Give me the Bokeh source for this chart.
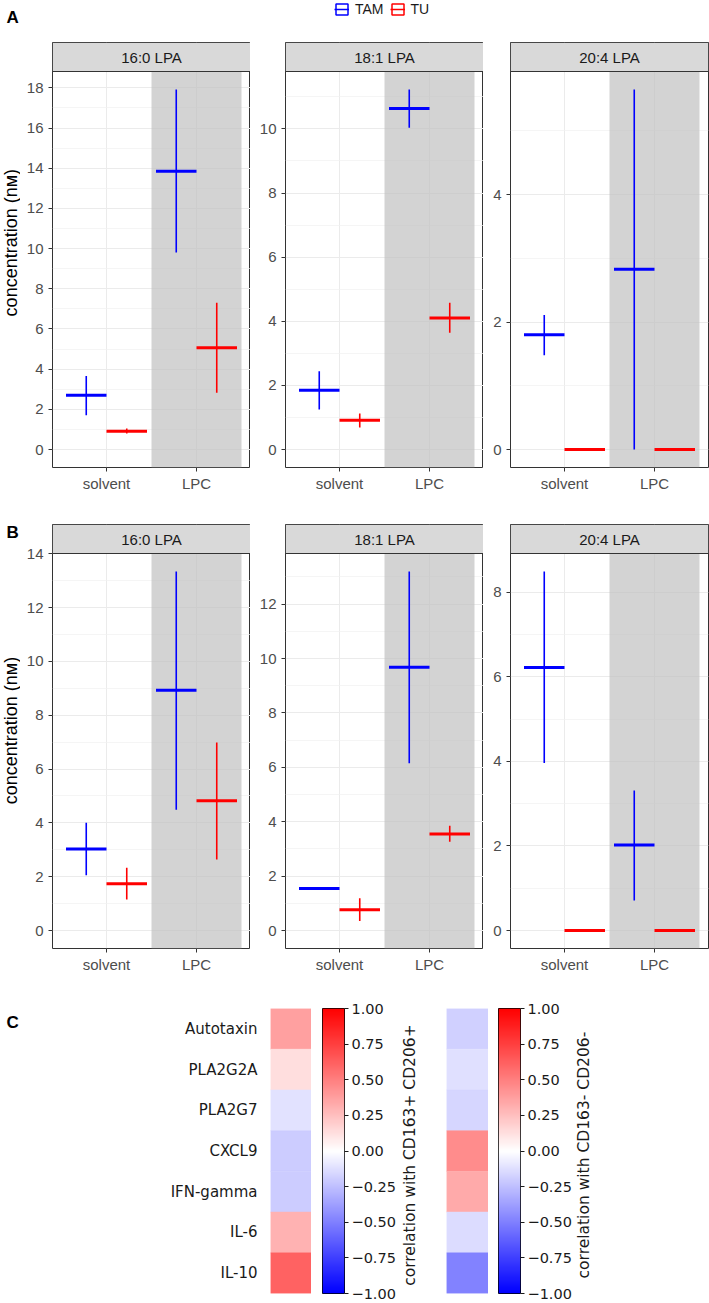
import numpy as np
from bokeh.plotting import figure
from bokeh.layouts import column, row
from bokeh.models import (Range1d, FixedTicker, Legend, LegendItem,
                          LinearColorMapper, FactorRange, CustomJSTickFormatter,
                          ColumnDataSource)
from bokeh.core.properties import value
from bokeh.embed import file_html
from bokeh.resources import INLINE

# ---------------- data ----------------
conditions = ["solvent", "LPC"]
highlight_condition = "LPC"
groups = ["TAM", "TU"]
lipids = ["16:0 LPA", "18:1 LPA", "20:4 LPA"]

# panel A  (rows = lipids, cols = conditions)
a_tam_med = [[2.70, 13.85], [1.85, 10.64], [1.80, 2.83]]
a_tam_lo = [[1.71, 9.81], [1.25, 10.04], [1.48, 0.00]]
a_tam_hi = [[3.66, 17.92], [2.44, 11.23], [2.11, 5.65]]
a_tu_med = [[0.91, 5.06], [0.91, 4.10], [0.00, 0.00]]
a_tu_lo = [[0.80, 2.82], [0.69, 3.64], [0.00, 0.00]]
a_tu_hi = [[1.04, 7.30], [1.12, 4.58], [0.00, 0.00]]

# panel B
b_tam_med = [[3.03, 8.93], [1.55, 9.68], [6.22, 2.02]]
b_tam_lo = [[2.05, 4.49], [1.55, 6.15], [3.96, 0.71]]
b_tam_hi = [[4.00, 13.34], [1.55, 13.20], [8.49, 3.31]]
b_tu_med = [[1.74, 4.82], [0.76, 3.55], [0.00, 0.00]]
b_tu_lo = [[1.15, 2.64], [0.35, 3.26], [0.00, 0.00]]
b_tu_hi = [[2.33, 6.99], [1.19, 3.85], [0.00, 0.00]]

# panel C
cytokines = ["Autotaxin", "PLA2G2A", "PLA2G7", "CXCL9", "IFN-gamma", "IL-6", "IL-10"]
corr_pos = [0.37, 0.13, -0.11, -0.20, -0.20, 0.30, 0.61]
corr_neg = [-0.18, -0.12, -0.16, 0.45, 0.33, -0.14, -0.49]
cbar_ticks = [-1.0, -0.75, -0.5, -0.25, 0.0, 0.25, 0.5, 0.75, 1.0]
cbar_titles = ["correlation with CD163+ CD206+", "correlation with CD163- CD206-"]
y_title = "concentration (n\u1d0d)"
panel_letters = ["A", "B", "C"]

# ---------------- style ----------------
COLORS = {"TAM": "#0000FF", "TU": "#FF0000"}
FONT = "Liberation Sans"
MPL_FONT = "DejaVu Sans"
LABEL_COL_W = 20
PANEL_W, STRIP_H = 198, 29
LEFTS = [32, 35, 27]
RIGHTS = [0, 0, 1]
DODGE = 0.45
TICK_FS = "15px"


def bwr_palette(n=256):
    cols = []
    for i in range(n):
        v = i / (n - 1)
        if v <= 0.5:
            t = v / 0.5
            r = g = int(round(255 * t)); b = 255
        else:
            t = (v - 0.5) / 0.5
            r = 255; g = b = int(round(255 * (1 - t)))
        cols.append("#%02x%02x%02x" % (r, g, b))
    return cols


BWR = bwr_palette()


def blank_fig(width, height):
    """Figure whose data space equals its pixel space (y measured from top)."""
    p = figure(width=width, height=height, x_range=Range1d(0, width),
               y_range=Range1d(height, 0), x_axis_location=None, y_axis_location=None,
               toolbar_location=None, output_backend="svg", min_border=0)
    p.outline_line_color = None
    p.grid.visible = False
    p.background_fill_color = "white"
    p.border_fill_color = "white"
    return p


def letter(p, txt, x, y):
    p.text(x=[x], y=[y], text=[txt], text_font=value(FONT),
           text_font_size=value("17px"), text_font_style="bold",
           text_baseline="top", text_align="left", text_color="black")


def style_axis(ax):
    ax.major_label_text_font = FONT
    ax.major_label_text_font_size = TICK_FS
    ax.major_label_text_color = "#4D4D4D"
    ax.major_tick_line_color = "#333333"
    ax.major_tick_out = 4
    ax.major_tick_in = 0
    ax.minor_tick_line_color = None
    ax.axis_line_color = None


def make_panel(k, med, lo, hi, panel_h, bottom):
    allv = []
    for g in groups:
        allv += list(med[g][k]) + list(lo[g][k]) + list(hi[g][k])
    dmax = max(allv)
    dmin = min(0.0, min(allv))
    span = dmax - dmin
    y0 = dmin - 0.05 * span
    y1 = dmax + 0.05 * span
    ytop = y1 + STRIP_H * (y1 - y0) / panel_h
    ncat = len(conditions)
    xr = Range1d(1 - 0.6, ncat + 0.6)
    p = figure(width=LEFTS[k] + PANEL_W + RIGHTS[k], height=panel_h + STRIP_H + bottom,
               x_range=xr, y_range=Range1d(y0, ytop),
               output_backend="svg", toolbar_location=None,
               min_border_left=LEFTS[k], min_border_right=RIGHTS[k],
               min_border_top=0, min_border_bottom=bottom)
    p.background_fill_color = "white"
    p.border_fill_color = "white"
    p.outline_line_color = "#333333"
    p.outline_line_width = 1

    step = 2
    major = [float(t) for t in np.arange(0, y1 + 1e-9, step)]
    minor = [float(t) for t in np.arange(step / 2, y1 + 1e-9, step)]
    p.yaxis.ticker = FixedTicker(ticks=major, minor_ticks=minor)
    p.xaxis.ticker = FixedTicker(ticks=list(range(1, ncat + 1)))
    p.xaxis.major_label_overrides = {i + 1: c for i, c in enumerate(conditions)}
    style_axis(p.yaxis[0])
    style_axis(p.xaxis[0])
    p.yaxis.major_label_standoff = 5
    p.xaxis.major_label_standoff = 3
    p.ygrid.grid_line_color = "#EBEBEB"
    p.ygrid.grid_line_width = 1
    p.ygrid.minor_grid_line_color = "#F0F0F0"
    p.ygrid.minor_grid_line_width = 0.7
    p.xgrid.grid_line_color = "#EBEBEB"
    p.xgrid.grid_line_width = 1

    hi_idx = conditions.index(highlight_condition) + 1
    p.quad(left=[hi_idx - 0.5], right=[hi_idx + 0.5], bottom=[y0], top=[y1],
           fill_color="#BEBEBE", fill_alpha=0.68, line_color=None)

    for gi, g in enumerate(groups):
        off = (gi - (len(groups) - 1) / 2) * DODGE
        xs = [ci + 1 + off for ci in range(ncat)]
        p.segment(x0=xs, x1=xs, y0=lo[g][k], y1=hi[g][k],
                  line_color=COLORS[g], line_width=1.6)
        p.segment(x0=[x - DODGE / 2 for x in xs], x1=[x + DODGE / 2 for x in xs],
                  y0=med[g][k], y1=med[g][k], line_color=COLORS[g], line_width=3)

    # facet strip
    p.quad(left=[xr.start], right=[xr.end], bottom=[y1], top=[ytop],
           fill_color="#D9D9D9", line_color="#333333", line_width=1)
    p.text(x=[(xr.start + xr.end) / 2], y=[(y1 + ytop) / 2], text=[lipids[k]],
           text_font=value(FONT), text_font_size=value(TICK_FS),
           text_color="#1A1A1A", text_align="center", text_baseline="middle")
    return p


def label_column(height, panel_h, letter_txt=None):
    p = blank_fig(LABEL_COL_W, height)
    p.text(x=[10], y=[STRIP_H + panel_h / 2], text=[y_title], angle=np.pi / 2,
           text_font=value(FONT), text_font_size=value("18px"), text_color="black",
           text_align="center", text_baseline="middle")
    if letter_txt:
        letter(p, letter_txt, 6, -2)
    return p


A = ({"TAM": a_tam_med, "TU": a_tu_med}, {"TAM": a_tam_lo, "TU": a_tu_lo},
     {"TAM": a_tam_hi, "TU": a_tu_hi})
B = ({"TAM": b_tam_med, "TU": b_tu_med}, {"TAM": b_tam_lo, "TU": b_tu_lo},
     {"TAM": b_tam_hi, "TU": b_tu_hi})

PH_A, BOT_A = 396, 57
PH_B, BOT_B = 395, 42
row_a = row(label_column(PH_A + STRIP_H + BOT_A, PH_A),
            *[make_panel(k, *A, panel_h=PH_A, bottom=BOT_A) for k in range(3)])
row_b = row(label_column(PH_B + STRIP_H + BOT_B, PH_B, panel_letters[1]),
            *[make_panel(k, *B, panel_h=PH_B, bottom=BOT_B) for k in range(3)])

# ---------------- top (legend + "A") ----------------
TOP_H = 42
top = blank_fig(709, TOP_H)
letter(top, panel_letters[0], 6, 7)
items = []
for g in groups:
    rr = top.rect(x=[-50], y=[-50], width=1, height=1, fill_color=None,
                  line_color=COLORS[g], line_width=1.5)
    rs = top.segment(x0=[-50], y0=[-50], x1=[-49], y1=[-50],
                     line_color=COLORS[g], line_width=1.5)
    items.append(LegendItem(label=g, renderers=[rr, rs]))
legend = Legend(items=items, orientation="horizontal", location=(334, TOP_H - 17),
                glyph_width=15, glyph_height=14, label_standoff=6, spacing=6,
                padding=0, margin=0, border_line_color=None, background_fill_alpha=0,
                label_text_font=FONT, label_text_font_size="14px",
                label_text_color="#1A1A1A", label_height=14)
top.add_layout(legend, "center")

# ---------------- heatmaps ----------------
HM_H, HM_TOP, HM_BOT = 285, 18, 9
ROW_C_H = HM_H + HM_TOP + HM_BOT
mapper = LinearColorMapper(palette=BWR, low=-1, high=1)


def make_heat(vals, border_left, cell_w, show_labels):
    p = figure(width=border_left + cell_w, height=ROW_C_H,
               x_range=Range1d(-0.5, 0.5), y_range=FactorRange(factors=cytokines[::-1]),
               x_axis_location=None, y_axis_location="left" if show_labels else None,
               toolbar_location=None, output_backend="svg",
               min_border_left=border_left, min_border_right=0,
               min_border_top=HM_TOP, min_border_bottom=HM_BOT)
    p.outline_line_color = None
    p.grid.visible = False
    src = ColumnDataSource(dict(x=[0.0] * len(cytokines), y=cytokines, v=vals))
    p.rect(x="x", y="y", width=1, height=1, source=src,
           fill_color={"field": "v", "transform": mapper},
           line_color={"field": "v", "transform": mapper}, line_width=0.5)
    if show_labels:
        ax = p.yaxis[0]
        ax.major_label_text_font = MPL_FONT
        ax.major_label_text_font_size = "15px"
        ax.major_label_text_color = "#1A1A1A"
        ax.major_tick_line_color = None
        ax.minor_tick_line_color = None
        ax.axis_line_color = None
        ax.major_label_standoff = 7
    return p


def make_cbar(border_left, bar_w):
    p = figure(width=border_left + bar_w + 54, height=ROW_C_H,
               x_range=Range1d(0, 1), y_range=Range1d(cbar_ticks[0], cbar_ticks[-1]),
               x_axis_location=None, y_axis_location="right",
               toolbar_location=None, output_backend="svg",
               min_border_left=border_left, min_border_right=54,
               min_border_top=HM_TOP, min_border_bottom=HM_BOT)
    p.grid.visible = False
    p.outline_line_color = "black"
    p.outline_line_width = 1
    grad = np.linspace(cbar_ticks[0], cbar_ticks[-1], 256).reshape(-1, 1)
    p.image(image=[grad], x=p.x_range.start, y=p.y_range.start,
            dw=p.x_range.end - p.x_range.start, dh=p.y_range.end - p.y_range.start,
            color_mapper=mapper)
    ax = p.yaxis[0]
    ax.ticker = FixedTicker(ticks=cbar_ticks)
    ax.formatter = CustomJSTickFormatter(code="return tick.toFixed(2).replace('-', '\\u2212');")
    ax.major_label_text_font = MPL_FONT
    ax.major_label_text_font_size = "14.5px"
    ax.major_label_text_color = "#1A1A1A"
    ax.major_tick_line_color = "#1A1A1A"
    ax.major_tick_out = 4
    ax.major_tick_in = 0
    ax.minor_tick_line_color = None
    ax.axis_line_color = None
    ax.major_label_standoff = 3
    return p


def cbar_title(width, x, title):
    p = blank_fig(width, ROW_C_H)
    p.text(x=[x], y=[HM_TOP + HM_H / 2], text=[title], angle=np.pi / 2,
           text_font=value(MPL_FONT), text_font_size=value("15.5px"),
           text_color="#1A1A1A", text_align="center", text_baseline="middle")
    return p


cfig = blank_fig(LABEL_COL_W, ROW_C_H)
letter(cfig, panel_letters[2], 6, 5)
hm1 = make_heat(corr_pos, 250, 41, True)      # frame 270-311
cb1 = make_cbar(11, 22)                       # frame 322-344
t1 = cbar_title(22, 11, cbar_titles[0])       # 398-420
hm2 = make_heat(corr_neg, 26, 42, False)      # frame 446-488
cb2 = make_cbar(10, 22)                       # frame 498-520
t2 = cbar_title(20, 9, cbar_titles[1])        # 574-594
row_c = row(cfig, hm1, cb1, t1, hm2, cb2, t2)

layout = column(top, row_a, row_b, row_c)
open("out.html", "w").write(file_html(layout, INLINE))
